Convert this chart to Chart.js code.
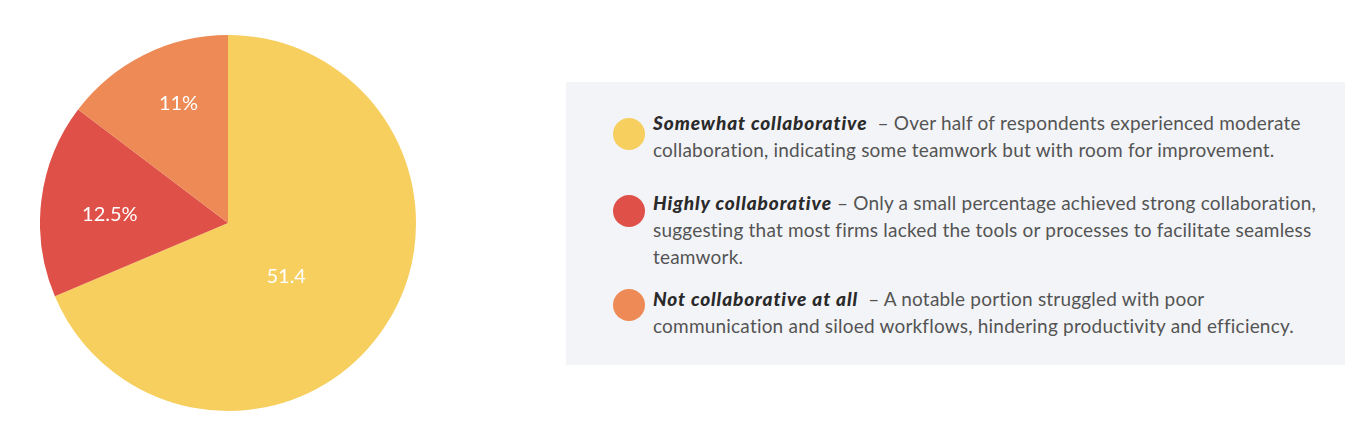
<!DOCTYPE html>
<html lang="en">
<head>
  <meta charset="UTF-8">
  <title>Collaboration levels</title>
  <script src="https://cdn.jsdelivr.net/npm/chart.js"></script>
  <style>
    html, body { margin: 0; padding: 0; background: #fff; }
    body { width: 1362px; height: 424px; position: relative; overflow: hidden; font-family: Lato, sans-serif; }
    #pieBox { position: absolute; left: 40px; top: 35px; width: 376px; height: 376px; }
    #legendBox { position: absolute; left: 566px; top: 82px; width: 779px; height: 283px; background: #f3f4f8; }
    .item { position: absolute; left: 87px; white-space: nowrap; font-size: 19px; letter-spacing: 0.2px; line-height: 27px; color: #545454; }
    .item b { font-style: italic; font-weight: 900; color: #2a2a2a; letter-spacing: 0.9px; }
    .dot { position: absolute; left: -40px; width: 32px; height: 32px; border-radius: 50%; }
  </style>
</head>
<body>
  <div id="pieBox"><canvas id="pie"></canvas></div>
  <div id="legendBox"></div>
  <script>
    const categories = ['Somewhat collaborative', 'Highly collaborative', 'Not collaborative at all'];
    const values = [51.4, 12.5, 11];
    const valueLabels = ['51.4', '12.5%', '11%'];
    const descriptions = [
      ['\u00a0\u00a0\u2013 Over half of respondents experienced moderate', 'collaboration, indicating some teamwork but with room for improvement.'],
      [' \u2013 Only a small percentage achieved strong collaboration,', 'suggesting that most firms lacked the tools or processes to facilitate seamless', 'teamwork.'],
      ['\u00a0\u00a0\u2013 A notable portion struggled with poor', 'communication and siloed workflows, hindering productivity and efficiency.']
    ];

    const colors = ['#f6cf5f', '#df5148', '#ed8a55'];
    // label placement tweaks (fraction of radius, angle shift in degrees)
    const labelRadius = [0.42, 0.63, 0.69];
    const labelShift = [9, -3, 4];
    const itemTops = [27, 107, 203];
    const dotTops = [36, 113, 207];

    const sliceLabels = {
      id: 'sliceLabels',
      afterDatasetsDraw(chart) {
        const c = chart.ctx;
        const arcs = chart.getDatasetMeta(0).data;
        c.save();
        c.fillStyle = '#ffffff';
        c.font = '20px Lato';
        c.textAlign = 'center';
        c.textBaseline = 'middle';
        arcs.forEach((arc, i) => {
          const a = (arc.startAngle + arc.endAngle) / 2 + labelShift[i] * Math.PI / 180;
          const r = arc.outerRadius * labelRadius[i];
          c.fillText(valueLabels[i], arc.x + Math.cos(a) * r, arc.y + Math.sin(a) * r);
        });
        c.restore();
      }
    };

    new Chart(document.getElementById('pie'), {
      type: 'pie',
      data: {
        labels: categories,
        datasets: [{ data: values, backgroundColor: colors, borderWidth: 0 }]
      },
      options: {
        responsive: true,
        maintainAspectRatio: false,
        animation: false,
        layout: { padding: 0 },
        plugins: { legend: { display: false }, tooltip: { enabled: false } }
      },
      plugins: [sliceLabels]
    });

    const box = document.getElementById('legendBox');
    categories.forEach((cat, i) => {
      const item = document.createElement('div');
      item.className = 'item';
      item.style.top = itemTops[i] + 'px';
      const dot = document.createElement('div');
      dot.className = 'dot';
      dot.style.background = colors[i];
      dot.style.top = (dotTops[i] - itemTops[i]) + 'px';
      item.appendChild(dot);
      const b = document.createElement('b');
      b.textContent = cat;
      item.appendChild(b);
      descriptions[i].forEach((line, j) => {
        if (j > 0) item.appendChild(document.createElement('br'));
        item.appendChild(document.createTextNode(line));
      });
      box.appendChild(item);
    });
  </script>
</body>
</html>
